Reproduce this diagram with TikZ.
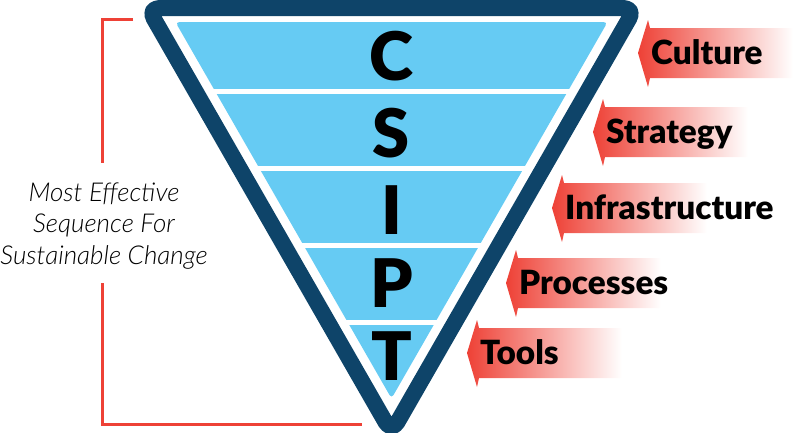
\documentclass[tikz,border=0pt]{standalone}
\usepackage{fontspec}
\setmainfont{Lato}
\newfontfamily\lightit{Lato Light Italic}
\newfontfamily\heavy{Lato Black}
\usetikzlibrary{positioning}
\definecolor{FrameNavy}{HTML}{0E4469}
\definecolor{BandBlue}{HTML}{66CBF3}
\definecolor{ArrowRed}{HTML}{EE4136}

\begin{document}
\begin{tikzpicture}[x=1pt,y=-1pt,
  letter/.style={font=\heavy\fontsize{67}{67}\selectfont,inner sep=0pt},
  tag/.style={font=\heavy\fontsize{33.3}{33.3}\selectfont,inner sep=0pt,anchor=base west},
  bracket/.style={ArrowRed,line width=3pt}]
  \useasboundingbox (0,0) rectangle (800,432);
  % outer frame
  \draw[FrameNavy,line width=16pt,rounded corners=12pt,line join=round]
    (147.7,8) -- (635.3,8) -- (391.5,432.6) -- cycle;
  % bands
  \begin{scope}
    \clip[rounded corners=4pt] (175.4,22) -- (607.6,22) -- (391.5,398.5) -- cycle;
    \foreach \top/\bot in {22/89,94/166,171/243,248/320,325/400}
      \fill[BandBlue] (150,\top) rectangle (640,\bot);
  \end{scope}
  \foreach \ltr/\yy in {C/56,S/133,I/210,P/283,T/356}
    \node[letter] (ltr-\ltr) at (391.5,\yy) {\ltr};
  % arrows
  \foreach \tx/\cy/\name/\txt in {638/53/cult/Culture,593/132/strat/Strategy,552/208/infra/Infrastructure,506/283/proc/Processes,467/353/tools/Tools} {
    \shade[left color=ArrowRed,right color=white]
      (\tx,\cy) -- ++(10,-33) -- ++(2,8) -- ++(143,0) -- ++(0,50) -- ++(-143,0) -- ++(-2,9) -- cycle;
    \node[tag] (\name) at (\tx+13,\cy+11) {\txt};
  }
  % left bracket
  \node[align=center,font=\lightit\fontsize{26}{31.5}\selectfont,inner sep=0pt] (seq) at (104,226)
    {Most Effective\\Sequence For\\Sustainable Change};
  \coordinate (br-a) at (133,19);
  \coordinate (br-b) at (102,163);
  \coordinate (br-c) at (102,283);
  \coordinate (br-d) at (362,424);
  \draw[bracket] (br-a) -| (br-b);
  \draw[bracket] (br-c) |- (br-d);
\end{tikzpicture}
\end{document}
